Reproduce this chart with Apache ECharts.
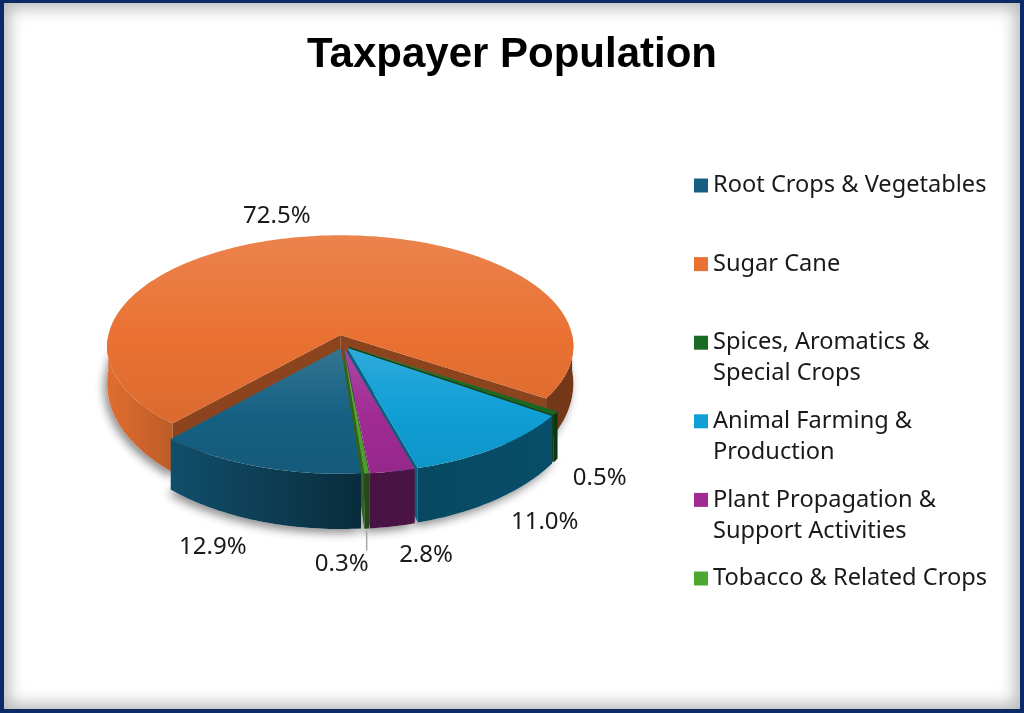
<!DOCTYPE html>
<html>
<head>
<meta charset="utf-8">
<script src="https://cdn.jsdelivr.net/npm/echarts@6/dist/echarts.min.js"></script>
<style>
  html, body { margin: 0; padding: 0; background: #fff; }
  #frame { position: absolute; left: 0; top: 0; width: 1024px; height: 713px; box-sizing: border-box;
           border: 4px solid #0b2a66; border-top-width: 3px; background: #fff;
           box-shadow: inset 0 0 16px 5px rgba(0,0,0,0.28); }
  #chart { position: absolute; left: 0; top: 0; width: 1024px; height: 713px; }
</style>
</head>
<body>
<div id="frame"></div>
<div id="chart"></div>
<script>
// ---- data ----
const categories = ['Root Crops & Vegetables', 'Sugar Cane', 'Spices, Aromatics & Special Crops',
  'Animal Farming & Production', 'Plant Propagation & Support Activities', 'Tobacco & Related Crops'];
const values = [12.9, 72.5, 0.5, 11.0, 2.8, 0.3];
const legendNames = ['Root Crops & Vegetables', 'Sugar Cane', 'Spices, Aromatics &\nSpecial Crops',
  'Animal Farming &\nProduction', 'Plant Propagation &\nSupport Activities', 'Tobacco & Related Crops'];
const colors = ['#156082', '#E97132', '#196B24', '#0F9ED5', '#A02B93', '#4EA72E'];

// ---- 3D pie projection settings ----
const CX = 343, CY = 345, SX = 234, SZ = 112, K = 0.1025, H0 = 37, KH = 0.48, START = 85.5;
const RAD = Math.PI / 180;
const total = values.reduce((a, b) => a + b, 0);
const maxV = Math.max.apply(null, values);
const FONT = 'Noto Sans';

function H(Z) { return H0 * (1 + KH * Z); }
function rgb(hex) { const n = parseInt(hex.slice(1), 16); return [(n >> 16) & 255, (n >> 8) & 255, n & 255]; }
function shade(hex, f) { const c = rgb(hex); return 'rgb(' + c.map(v => Math.round(v * f)).join(',') + ')'; }
function tint(hex, t) { const c = rgb(hex); return 'rgb(' + c.map(v => Math.round(v + (255 - v) * t)).join(',') + ')'; }

function renderSlice(i, api) {
  const v = api.value(0);
  let a0 = START;
  for (let j = 0; j < i; j++) a0 += values[j] / total * 360;
  const a1 = a0 + v / total * 360;
  const m = (a0 + a1) / 2;
  const e = v === maxV ? 0.09 : 0.03;
  const ex = e * Math.cos(m * RAD), ez = e * Math.sin(m * RAD);
  const base = colors[i];
  function P(th, down) {
    const X = ex + Math.cos(th * RAD), Z = ez + Math.sin(th * RAD);
    const w = 1 - K * Z;
    return [CX + SX * X / w, CY + SZ * Z / w + (down ? H(Z) : 0)];
  }
  function C(down) {
    const w = 1 - K * ez;
    return [CX + SX * ex / w, CY + SZ * ez / w + (down ? H(ez) : 0)];
  }
  function arc(b0, b1, down) {
    const n = Math.max(2, Math.ceil((b1 - b0) / 1));
    const pts = [];
    for (let k = 0; k <= n; k++) pts.push(P(b0 + (b1 - b0) * k / n, down));
    return pts;
  }
  // painter order: slices touching the front drawn last
  const has = a => (a0 <= a && a <= a1) || (a0 <= a + 360 && a + 360 <= a1);
  let key;
  if (has(90)) key = 0;
  else if (has(270)) key = 1000;
  else {
    const d = a => Math.abs(((a - 90) % 360 + 540) % 360 - 180);
    key = Math.min(d(a0), d(a1));
  }
  const zb = (1000 - key) / 10;
  const children = [];
  const wallFill = {
    type: 'linear', x: 100, y: 0, x2: 585, y2: 0, global: true,
    colorStops: [
      { offset: 0, color: shade(base, 0.98) },
      { offset: 0.14, color: shade(base, 0.82) },
      { offset: 0.55, color: shade(base, 0.45) },
      { offset: 1, color: shade(base, 0.5) }
    ]
  };
  // bottom shadow
  children.push({
    type: 'polygon', z2: -10,
    shape: { points: [C(true)].concat(arc(a0, a1, true)) },
    style: { fill: '#ffffff', shadowColor: 'rgba(0,0,0,0.45)', shadowBlur: 10, shadowOffsetX: -3, shadowOffsetY: 4 }
  });
  // cut faces
  const faceFill = shade(base, 0.6);
  if (Math.cos(a0 * RAD) < 0) {
    children.push({ type: 'polygon', z2: zb,
      shape: { points: [C(false), P(a0, false), P(a0, true), C(true)] },
      style: { fill: faceFill } });
  }
  if (Math.cos(a1 * RAD) > 0) {
    children.push({ type: 'polygon', z2: zb,
      shape: { points: [C(false), P(a1, false), P(a1, true), C(true)] },
      style: { fill: faceFill } });
  }
  // outer walls (front half only)
  [[0, 180], [360, 540]].forEach(function (rg) {
    const b0 = Math.max(a0, rg[0]), b1 = Math.min(a1, rg[1]);
    if (b1 > b0) {
      const top = arc(b0, b1, false), bot = arc(b0, b1, true).reverse();
      children.push({ type: 'polygon', z2: zb + 0.5,
        shape: { points: top.concat(bot) },
        style: { fill: wallFill } });
    }
  });
  // top face
  children.push({
    type: 'polygon', z2: 200 + zb,
    shape: { points: [C(false)].concat(arc(a0, a1, false)) },
    style: {
      fill: { type: 'linear', x: 0, y: 0, x2: 0, y2: 1,
        colorStops: [{ offset: 0, color: tint(base, 0.13) }, { offset: 0.55, color: base }, { offset: 1, color: shade(base, 0.94) }] }
    }
  });
  // label
  const sm = Math.sin(m * RAD);
  const rimTop = P(m, false), cen = C(false);
  let ux = rimTop[0] - cen[0], uy = rimTop[1] - cen[1];
  const len = Math.sqrt(ux * ux + uy * uy); ux /= len; uy /= len;
  const anchor = P(m, sm > 0);
  const txt = v.toFixed(1) + '%';
  const tstyle = { fill: '#1a1a1a', font: '24px "' + FONT + '"' };
  if (v < 0.5) {
    const y0 = anchor[1] + 2, y1 = anchor[1] + 22;
    children.push({ type: 'line', z2: 400, shape: { x1: anchor[0], y1: y0, x2: anchor[0], y2: y1 },
      style: { stroke: '#a6a6a6', lineWidth: 1.5 } });
    children.push({ type: 'text', z2: 401,
      style: Object.assign({ text: txt, x: anchor[0] + 2, y: y1 + 2, align: 'right', verticalAlign: 'top' }, tstyle) });
  } else {
    const d = uy < 0 ? 8 : 18;
    const x = anchor[0] + ux * d, y = anchor[1] + uy * d;
    const align = ux < -0.2 ? 'right' : (ux > 0.2 ? 'left' : 'center');
    const valign = uy < 0 ? 'bottom' : 'top';
    children.push({ type: 'text', z2: 401,
      style: Object.assign({ text: txt, x: x, y: y, align: align, verticalAlign: valign }, tstyle) });
  }
  return { type: 'group', children: children };
}

const chart = echarts.init(document.getElementById('chart'), null, { renderer: 'canvas' });
chart.setOption({
  animation: false,
  title: {
    text: 'Taxpayer Population', left: 'center', top: 29,
    textStyle: { fontFamily: 'Liberation Sans', fontWeight: 'bold', fontSize: 42, color: '#000' }
  },
  legend: {
    orient: 'vertical', left: 694, top: 139, padding: 0,
    itemWidth: 14, itemHeight: 14, itemGap: -14.4, icon: 'rect', selectedMode: false,
    data: categories,
    formatter: function (name) {
      const s = legendNames[categories.indexOf(name)];
      return '\n' + s + (s.indexOf('\n') >= 0 ? '' : '\n');
    },
    textStyle: { fontFamily: FONT, fontSize: 23.6, lineHeight: 31, color: '#1a1a1a' }
  },
  series: categories.map(function (name, i) {
    return {
      type: 'custom', name: name, coordinateSystem: 'none',
      itemStyle: { color: colors[i] },
      data: [[values[i]]],
      renderItem: function (params, api) { return renderSlice(i, api); }
    };
  })
});
</script>
</body>
</html>
